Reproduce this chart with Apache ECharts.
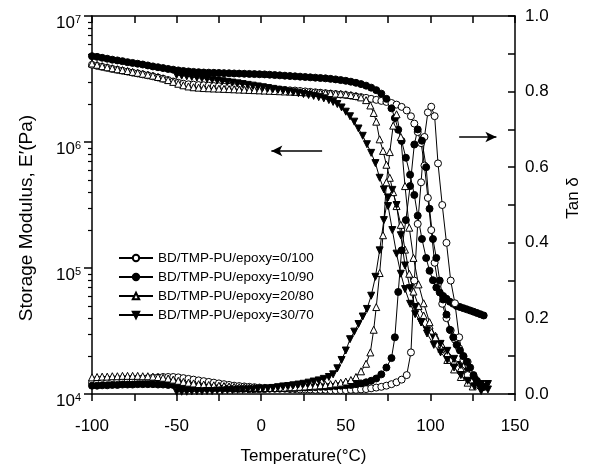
<!DOCTYPE html>
<html>
<head>
<meta charset="utf-8">
<script src="https://cdn.jsdelivr.net/npm/echarts@6/dist/echarts.min.js"></script>
<style>
  html, body { margin: 0; padding: 0; background: #fff; }
  #chart { width: 590px; height: 474px; }
</style>
</head>
<body>
<div id="chart"></div>
<script>
// legend names, one per composition
const names = [
  "BD/TMP-PU/epoxy=0/100",
  "BD/TMP-PU/epoxy=10/90",
  "BD/TMP-PU/epoxy=20/80",
  "BD/TMP-PU/epoxy=30/70"
];

// 0/100 : temperature (C), E' (MPa), tan delta
const temps0 = [-100,-97,-94,-91,-88,-85,-82,-79,-76,-73,-70,-67,-64,-61,-58,-55,-52,-49,-46,-43,-40,-37,-34,-31,-28,-25,-22,-19,-16,-13,-10,-7,-4,-1,2,5,8,11,14,17,20,23,26,29,32,35,38,41,44,47,50,53,56,59,62,65,68,71,74,77,80,83,86,
  88.5,90.5,92.5,94.5,96.5,98.5,100.5,102.5,104.5,107,109.5,112,114.5,117,119.5,122];
const modulus0 = [4.10,4.02,3.95,3.88,3.80,3.74,3.68,3.62,3.55,3.50,
  3.44,3.38,3.32,3.25,3.18,3.10,3.02,2.95,2.90,2.87,
  2.85,2.83,2.82,2.80,2.78,2.77,2.75,2.74,2.72,2.71,
  2.70,2.68,2.67,2.66,2.65,2.63,2.62,2.60,2.59,2.57,
  2.56,2.54,2.52,2.50,2.48,2.46,2.44,2.42,2.40,2.38,
  2.36,2.33,2.30,2.27,2.24,2.20,2.16,2.12,2.08,2.04,
  1.98,1.90,1.78,
  1.60,1.40,1.20,0.98,0.65,0.36,0.20,0.11,0.075,0.052,0.040,0.032,0.027,0.023,0.020,0.018];
const tan0 = [0.030,0.031,0.033,0.034,0.035,0.036,0.037,0.038,0.039,0.040,
  0.041,0.042,0.043,0.044,0.045,0.045,0.045,0.044,0.042,0.040,
  0.038,0.036,0.034,0.032,0.030,0.028,0.026,0.024,0.022,0.021,
  0.020,0.019,0.018,0.017,0.016,0.015,0.015,0.014,0.014,0.013,
  0.013,0.012,0.012,0.012,0.011,0.011,0.011,0.010,0.010,0.010,
  0.010,0.011,0.011,0.012,0.013,0.015,0.017,0.019,0.022,0.026,
  0.031,0.038,0.050,
  0.11,0.30,0.45,0.56,0.68,0.745,0.76,0.735,0.61,0.50,0.40,0.30,0.24,0.15,0.09,0.05];

// 10/90
const temps1 = [-100,-97,-94,-91,-88,-85,-82,-79,-76,-73,-70,-67,-64,-61,-58,-55,-52,-49,-46,-43,-40,-37,-34,-31,-28,-25,-22,-19,-16,-13,-10,-7,-4,-1,2,5,8,11,14,17,20,23,26,29,32,35,38,41,44,47,50,53,56,59,62,65,68,71,74,77,
  79,81,83,85.5,88,90.5,92.5,95,97.5,99.5,101.5,
  103.5,105.5,107.5,109.5,111.5,113.5,115.5,117.5,119.5,121.5,123.5,125.5,127.5,129.5,131.5];
const modulus1 = [4.80,4.74,4.66,4.58,4.50,4.44,4.38,4.30,4.24,4.18,
  4.12,4.05,3.98,3.92,3.86,3.80,3.75,3.70,3.66,3.63,
  3.60,3.58,3.56,3.55,3.54,3.53,3.52,3.51,3.50,3.49,
  3.48,3.47,3.46,3.45,3.44,3.42,3.40,3.38,3.36,3.34,
  3.32,3.30,3.28,3.26,3.24,3.22,3.20,3.17,3.14,3.10,
  3.06,3.01,2.95,2.88,2.80,2.70,2.58,2.42,2.20,1.85,
  1.55,1.25,1.02,0.75,0.55,0.38,0.26,0.17,0.12,0.095,0.080,
  0.070,0.064,0.060,0.057,0.054,0.052,0.050,0.049,0.048,0.047,0.046,0.045,0.044,0.043,0.042];
const tan1 = [0.022,0.022,0.023,0.023,0.024,0.024,0.025,0.025,0.025,0.026,
  0.026,0.026,0.026,0.025,0.025,0.024,0.024,0.023,0.022,0.021,
  0.020,0.019,0.018,0.017,0.016,0.016,0.015,0.015,0.014,0.014,
  0.014,0.013,0.013,0.013,0.013,0.014,0.014,0.015,0.015,0.016,
  0.016,0.017,0.017,0.018,0.018,0.019,0.019,0.020,0.021,0.022,
  0.023,0.024,0.026,0.028,0.031,0.035,0.041,0.052,0.070,0.095,
  0.15,0.27,0.38,0.46,0.55,0.66,0.70,0.67,0.60,0.49,0.41,
  0.36,0.30,0.25,0.21,0.17,0.15,0.13,0.115,0.10,0.085,0.07,0.05,0.035,0.025,0.02];

// 20/80
const temps2 = [-100,-97,-94,-91,-88,-85,-82,-79,-76,-73,-70,-67,-64,-61,-58,-55,-52,-49,-46,-43,-40,-37,-34,-31,-28,-25,-22,-19,-16,-13,-10,-7,-4,-1,2,5,8,11,14,17,20,23,26,29,32,35,38,41,44,47,50,53,56,59,62,
  64.5,66.5,68,70,72,74,76,78,80,82.5,85,87.5,90,93,96,99.5,103,106.5,110,114,118,122,125];
const modulus2 = [4.20,4.10,4.00,3.92,3.85,3.78,3.72,3.66,3.60,3.54,
  3.48,3.42,3.36,3.28,3.20,3.10,3.00,2.90,2.82,2.76,
  2.72,2.70,2.68,2.67,2.66,2.65,2.64,2.63,2.62,2.61,
  2.60,2.59,2.58,2.57,2.56,2.55,2.54,2.53,2.52,2.51,
  2.50,2.49,2.48,2.47,2.46,2.45,2.44,2.43,2.42,2.41,
  2.39,2.36,2.32,2.26,2.15,
  1.95,1.70,1.45,1.05,0.85,0.66,0.52,0.40,0.31,0.22,0.14,0.090,0.065,0.050,0.042,0.035,0.029,0.025,0.021,0.018,0.016,0.014,0.013];
const tan2 = [0.044,0.045,0.046,0.046,0.047,0.047,0.048,0.048,0.048,0.048,
  0.047,0.047,0.046,0.045,0.043,0.041,0.038,0.035,0.032,0.030,
  0.028,0.026,0.025,0.024,0.023,0.022,0.021,0.020,0.019,0.018,
  0.018,0.017,0.017,0.016,0.016,0.016,0.016,0.017,0.017,0.018,
  0.018,0.019,0.020,0.021,0.022,0.023,0.024,0.026,0.028,0.030,
  0.033,0.037,0.045,0.060,0.080,
  0.11,0.17,0.23,0.32,0.42,0.56,0.64,0.71,0.74,0.68,0.55,0.44,0.36,0.29,0.24,0.19,0.15,0.12,0.09,0.065,0.045,0.03,0.02];

// 30/70
const temps3 = [-50,-47,-44,-41,-38,-35,-32,-29,-26,-23,-20,-17,-14,-11,-8,-5,-2,1,4,7,10,13,16,19,22,25,28,31,34,37,40,
  42.5,45,47.5,50,52.5,55,57.5,60,62.5,65,67.5,70,72.5,75,77.5,80,82.5,85,88,91,94.5,98,102,106,110,114,118,122,126,130,134];
const modulus3 = [3.40,3.36,3.32,3.28,3.24,3.20,3.16,3.12,3.08,3.04,
  3.00,2.96,2.92,2.88,2.84,2.80,2.76,2.72,2.68,2.64,
  2.60,2.56,2.52,2.48,2.44,2.40,2.36,2.32,2.27,2.22,
  2.15,
  2.08,2.00,1.88,1.74,1.60,1.45,1.28,1.12,0.96,0.82,0.68,0.52,0.42,0.31,0.20,0.13,0.090,0.068,0.052,0.043,0.037,0.032,0.028,0.025,0.022,0.019,0.017,0.015,0.013,0.012,0.012];
const tan3 = [0.006,0.006,0.006,0.007,0.007,0.007,0.008,0.008,0.009,0.009,
  0.010,0.010,0.011,0.011,0.012,0.012,0.013,0.014,0.015,0.016,
  0.018,0.020,0.021,0.023,0.025,0.027,0.030,0.033,0.036,0.040,
  0.045,
  0.052,0.068,0.090,0.115,0.145,0.165,0.185,0.205,0.225,0.26,0.31,0.38,0.46,0.52,0.54,0.50,0.42,0.34,0.28,0.23,0.19,0.16,0.13,0.11,0.09,0.07,0.05,0.035,0.02,0.008,0.012];

// minor ticks of the log axis (Pa)
const logMinorTicks = [2e4,3e4,4e4,5e4,6e4,7e4,8e4,9e4,2e5,3e5,4e5,5e5,6e5,7e5,8e5,9e5,2e6,3e6,4e6,5e6,6e6,7e6,8e6,9e6];

const FONT = "Liberation Sans, Arial, sans-serif";
const chart = echarts.init(document.getElementById("chart"));

const marks = [
  { symbol: "circle", open: true, rotate: 0 },
  { symbol: "circle", open: false, rotate: 0 },
  { symbol: "triangle", open: true, rotate: 0 },
  { symbol: "triangle", open: false, rotate: 180 }
];
const temps = [temps0, temps1, temps2, temps3];
const moduli = [modulus0, modulus1, modulus2, modulus3];
const tans = [tan0, tan1, tan2, tan3];

function makeSeries(i, values, scale, yAxisIndex) {
  const m = marks[i];
  return {
    name: names[i],
    type: "line",
    xAxisIndex: 0,
    yAxisIndex,
    data: temps[i].map((t, k) => [t, values[k] * scale]),
    symbol: m.symbol,
    symbolRotate: m.rotate,
    symbolSize: 7,
    showAllSymbol: true,
    lineStyle: { color: "#000", width: 1 },
    itemStyle: { color: m.open ? "#fff" : "#000", borderColor: "#000", borderWidth: 1 },
    emphasis: { disabled: true }
  };
}

const series = [];
for (let i = 0; i < 4; i++) series.push(makeSeries(i, moduli[i], 1e6, 0));
for (let i = 0; i < 4; i++) series.push(makeSeries(i, tans[i], 1, 1));

// arrows pointing to each axis
const arrowStyle = { color: "#000", width: 1.5, type: "solid" };
series[0].markLine = {
  silent: true, symbol: ["none", "arrow"], symbolSize: [8, 11],
  lineStyle: arrowStyle, label: { show: false },
  data: [[{ coord: [36, 8.5e5] }, { coord: [6, 8.5e5] }]]
};
series[4].markLine = {
  silent: true, symbol: ["none", "arrow"], symbolSize: [8, 11],
  lineStyle: arrowStyle, label: { show: false },
  data: [[{ coord: [117, 0.68] }, { coord: [139, 0.68] }]]
};

const tickFont = { fontFamily: FONT, fontSize: 17, color: "#000" };

chart.setOption({
  animation: false,
  backgroundColor: "#fff",
  grid: { left: 92, right: 75, top: 16, bottom: 80 },
  legend: {
    data: names,
    orient: "vertical",
    left: 118, top: 251, padding: 0,
    itemWidth: 34, itemHeight: 8, itemGap: 5,
    textStyle: { fontFamily: FONT, fontSize: 13.5, color: "#000" },
    selectedMode: false
  },
  xAxis: [
    {
      type: "value", position: "bottom", min: -100, max: 150, interval: 25,
      name: "Temperature(\u00B0C)", nameLocation: "middle", nameGap: 54,
      nameTextStyle: { fontFamily: FONT, fontSize: 17, color: "#000" },
      axisLine: { onZero: false, lineStyle: { color: "#000", width: 1.5 } },
      axisTick: { length: 7, lineStyle: { color: "#000", width: 1.5 } },
      axisLabel: Object.assign({ margin: 24, formatter: v => (v % 50 === 0 ? String(v) : "") }, tickFont),
      splitLine: { show: false }
    },
    {
      type: "value", position: "top", min: -100, max: 150, interval: 25,
      axisLine: { onZero: false, lineStyle: { color: "#000", width: 1.5 } },
      axisTick: { inside: true, length: 7, lineStyle: { color: "#000", width: 1.5 } },
      axisLabel: { show: false },
      splitLine: { show: false }
    }
  ],
  yAxis: [
    {
      type: "log", logBase: 10, min: 1e4, max: 1e7, position: "left",
      name: "Storage Modulus, E\u2032(Pa)", nameLocation: "middle", nameGap: 56, nameRotate: 90,
      nameTextStyle: { fontFamily: FONT, fontSize: 19, color: "#000", padding: [0, 26, 0, 0] },
      axisLine: { show: true, onZero: false, lineStyle: { color: "#000", width: 1.5 } },
      axisTick: { length: 8, lineStyle: { color: "#000", width: 1.5 } },
      axisLabel: {
        margin: 11,
        padding: [14, 0, 0, 0],
        formatter: v => "{b|10}{s|" + Math.round(Math.log10(v)) + "}",
        rich: {
          b: { fontFamily: FONT, fontSize: 17, color: "#000", lineHeight: 17 },
          s: { fontFamily: FONT, fontSize: 11, color: "#000", verticalAlign: "top", lineHeight: 11 }
        }
      },
      splitLine: { show: false }
    },
    {
      type: "value", min: 0, max: 1, interval: 0.2, position: "right",
      name: "Tan \u03B4", nameLocation: "middle", nameGap: 50, nameRotate: 90,
      nameTextStyle: { fontFamily: FONT, fontSize: 17, color: "#000", padding: [0, 0, 0, 14] },
      axisLine: { show: true, onZero: false, lineStyle: { color: "#000", width: 1.5 } },
      axisTick: { inside: true, length: 7, lineStyle: { color: "#000", width: 1.5 } },
      minorTick: { show: true, splitNumber: 2, length: 7, lineStyle: { color: "#000", width: 1.5 } },
      axisLabel: Object.assign({ margin: 10, formatter: v => v.toFixed(1) }, tickFont),
      splitLine: { show: false },
      minorSplitLine: { show: false }
    },
    {
      type: "log", logBase: 10, min: 1e4, max: 1e7, position: "left",
      axisLine: { show: false, onZero: false },
      axisTick: { length: 4, customValues: logMinorTicks, lineStyle: { color: "#000", width: 1.2 } },
      axisLabel: { show: false },
      splitLine: { show: false }
    }
  ],
  series
});
</script>
</body>
</html>
